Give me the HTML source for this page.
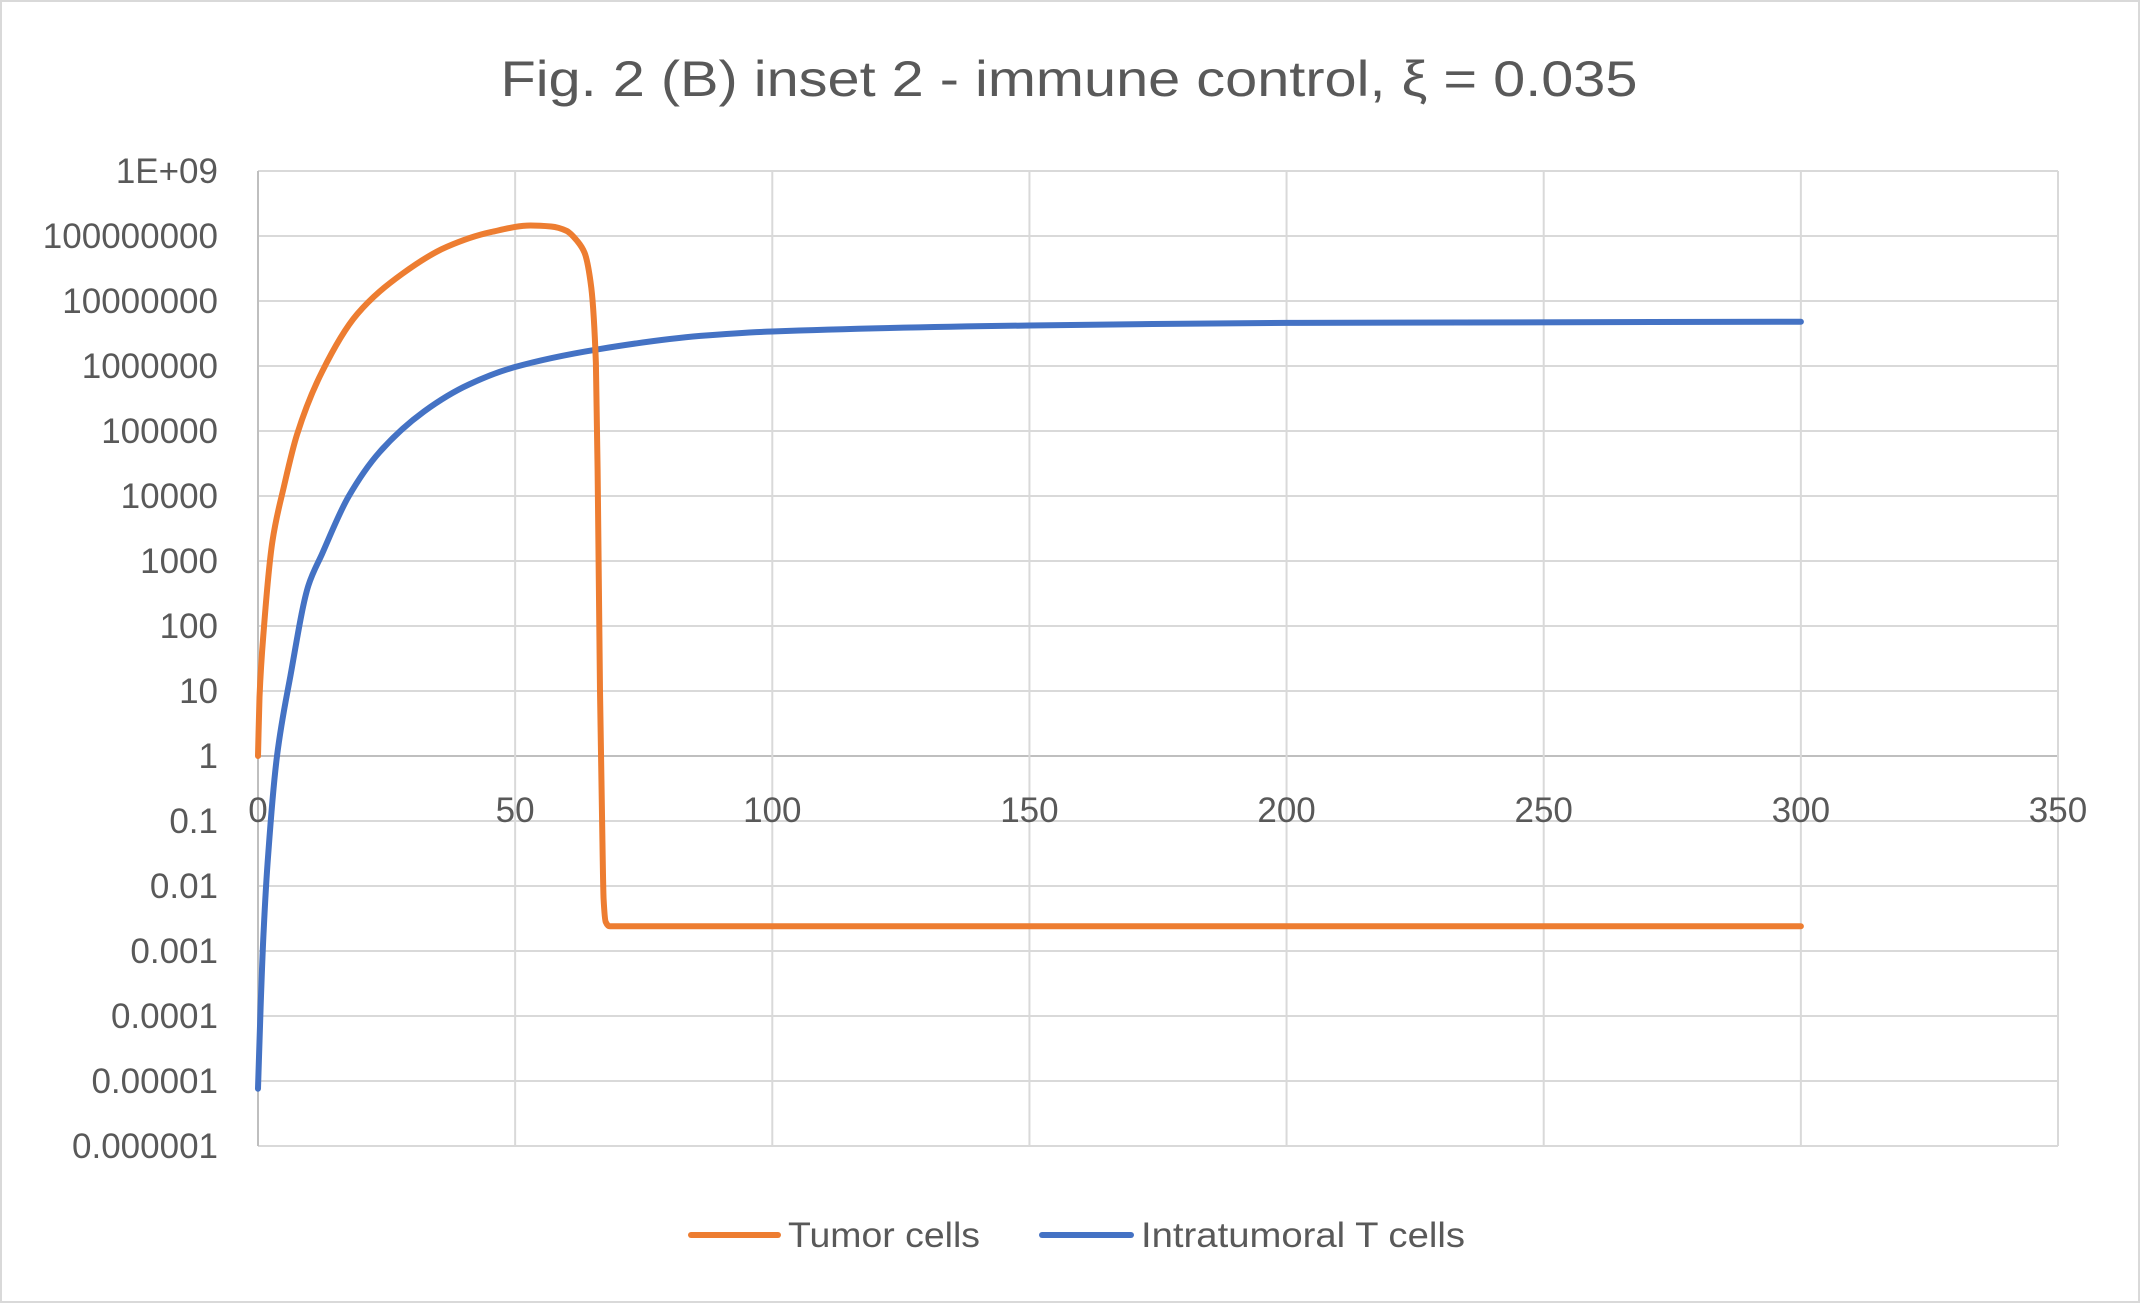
<!DOCTYPE html>
<html><head><meta charset="utf-8"><style>
html,body{margin:0;padding:0;background:#fff}
svg{display:block}
text{font-family:"Liberation Sans",sans-serif;fill:#595959}
</style></head><body>
<svg id="chart" width="2140" height="1303" viewBox="0 0 2140 1303" xmlns="http://www.w3.org/2000/svg">
<rect x="1" y="1" width="2138" height="1301" fill="#fff" stroke="#d9d9d9" stroke-width="2"/>
<text x="1069" y="96" font-size="50" text-anchor="middle" textLength="1137" lengthAdjust="spacingAndGlyphs">Fig. 2 (B) inset 2 - immune control, ξ = 0.035</text>
<g id="grid"></g>
<g id="ylabels"></g>
<g id="xlabels"></g>
<g id="series"></g>
<g>
<g>
<line x1="691" y1="1235" x2="778" y2="1235" stroke="#ed7d31" stroke-width="6" stroke-linecap="round"/>
<text x="788" y="1247" font-size="35" textLength="192" lengthAdjust="spacingAndGlyphs">Tumor cells</text>
</g>
<g>
<line x1="1042" y1="1235" x2="1131" y2="1235" stroke="#4472c4" stroke-width="6" stroke-linecap="round"/>
<text x="1141" y="1247" font-size="35" textLength="324" lengthAdjust="spacingAndGlyphs">Intratumoral T cells</text>
</g>
</g>
</svg>
<script>
const xTicks = [0,50,100,150,200,250,300,350];
const yTickExps = [9,8,7,6,5,4,3,2,1,0,-1,-2,-3,-4,-5,-6];
const yTickLabels = ["1E+09","100000000","10000000","1000000","100000","10000","1000","100","10","1","0.1","0.01","0.001","0.0001","0.00001","0.000001"];
const tumorT = [0,0.3,1.1,2.8,5,7.6,12.4,19.3,28,36.7,45.3,53,57,60,62,63.5,64.8,65.7,66.1,66.5,66.9,67.2,67.6,68.4,300];
const tumorV = [1,8,85,2000,13500,89000,8e5,6.3e6,2.6e7,6.8e7,1.15e8,1.45e8,1.4e8,1.2e8,8.5e7,5.5e7,1.6e7,1.1e6,1e4,10,0.1,0.0063,0.0028,0.0024,0.0024];
const tcellT = [0,0.5,1.1,2,3.7,6.3,9.8,12.4,17.6,23.7,32.3,41,49.7,66,86,100,150,200,300];
const tcellV = [7.6e-6,1.35e-4,2.1e-3,0.032,1,17,420,1260,9800,4.8e4,2e5,5.2e5,9.5e5,1.8e6,2.9e6,3.4e6,4.2e6,4.6e6,4.8e6];

const NS="http://www.w3.org/2000/svg";
const X0=258, X1=2058, Y0=171, Y1=1146;
function xs(t){return X0+(t-0)/(350-0)*(X1-X0);}
function ys(v){const l=Math.log10(v);return Y0+(9-l)/(15)*(Y1-Y0);}
function mk(tag,attrs,parent){const e=document.createElementNS(NS,tag);for(const k in attrs)e.setAttribute(k,attrs[k]);parent.appendChild(e);return e;}
const grid=document.getElementById('grid'), yl=document.getElementById('ylabels'), xl=document.getElementById('xlabels'), ser=document.getElementById('series');
yTickExps.forEach((e,i)=>{
  const y=ys(Math.pow(10,e));
  const ln=mk('line',{x1:X0,x2:X1,y1:y,y2:y,stroke:e===0?'#bfbfbf':'#d9d9d9','stroke-width':2},grid);
  
  
  const tx=mk('text',{x:218,y:y+12,'font-size':35,'text-anchor':'end'},yl);
  tx.textContent=yTickLabels[i];
  
  
});
xTicks.forEach(t=>{
  const x=xs(t);
  const ln=mk('line',{x1:x,x2:x,y1:Y0,y2:Y1,stroke:t===0?'#bfbfbf':'#d9d9d9','stroke-width':2},grid);
  
  
  const tx=mk('text',{x:x,y:822,'font-size':35,'text-anchor':'middle'},xl);
  tx.textContent=String(t);
  
  
});
function monotonePath(P){
  const n=P.length; if(n<2) return '';
  const dx=[],m=[],s=[];
  for(let i=0;i<n-1;i++){dx[i]=P[i+1][0]-P[i][0]; s[i]=(P[i+1][1]-P[i][1])/Math.max(dx[i],1e-6);}
  m[0]=s[0]; m[n-1]=s[n-2];
  for(let i=1;i<n-1;i++){ if(s[i-1]*s[i]<=0) m[i]=0; else { const w1=2*dx[i]+dx[i-1], w2=dx[i]+2*dx[i-1]; m[i]=(w1+w2)/(w1/s[i-1]+w2/s[i]); } }
  let d='M'+P[0][0].toFixed(1)+','+P[0][1].toFixed(1);
  for(let i=0;i<n-1;i++){
    const h=dx[i]/3;
    d+=' C'+(P[i][0]+h).toFixed(1)+','+(P[i][1]+m[i]*h).toFixed(1)+' '+(P[i+1][0]-h).toFixed(1)+','+(P[i+1][1]-m[i+1]*h).toFixed(1)+' '+P[i+1][0].toFixed(1)+','+P[i+1][1].toFixed(1);
  }
  return d;
}
function drawLine(T,V,color,name){
  const P=T.map((t,i)=>[xs(t),ys(V[i])]);
  const p=mk('path',{d:monotonePath(P),fill:'none',stroke:color,'stroke-width':6,'stroke-linejoin':'round','stroke-linecap':'round'},ser);
  
  
}
drawLine(tcellT,tcellV,'#4472c4','t-cells-line');
drawLine(tumorT,tumorV,'#ed7d31','tumor-cells-line');
</script>
</body></html>
